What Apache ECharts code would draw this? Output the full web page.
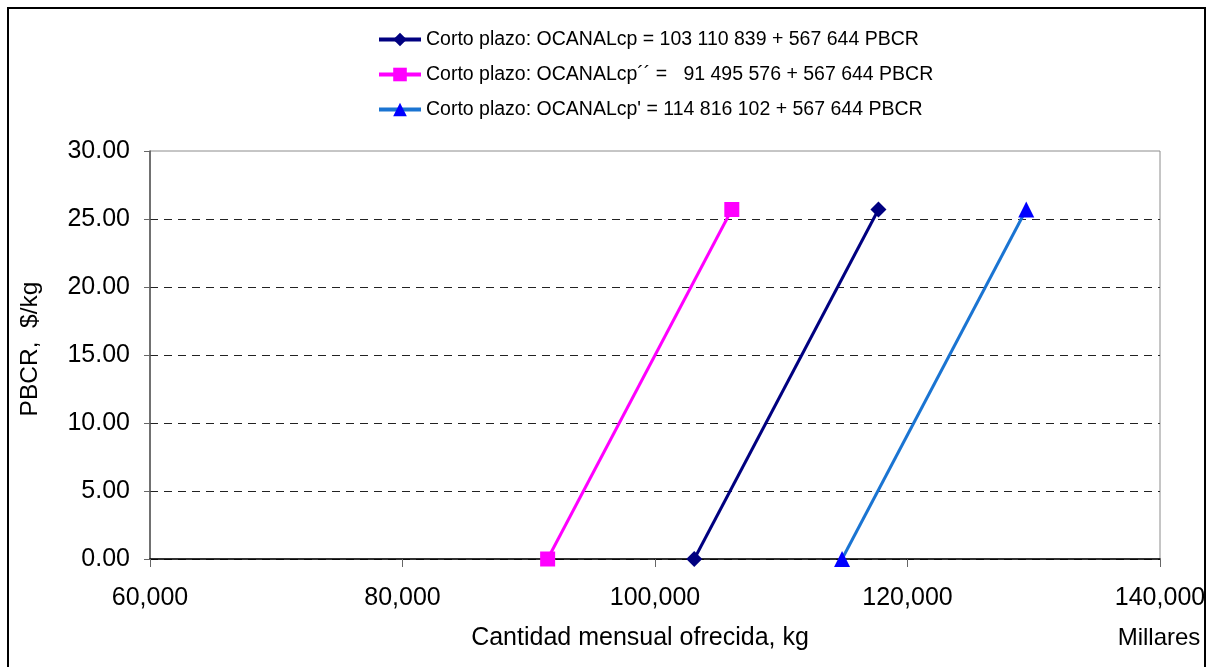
<!DOCTYPE html>
<html>
<head>
<meta charset="utf-8">
<title>Corto plazo OCANALcp</title>
<script src="https://cdn.jsdelivr.net/npm/echarts@6/dist/echarts.min.js"></script>
<style>
  html, body { margin: 0; padding: 0; background: #fff; }
  #chart { width: 1209px; height: 667px; }
</style>
</head>
<body>
<div id="chart"></div>
<script>
// series names (legend)
const seriesNames = [
  'Corto plazo: OCANALcp = 103 110 839 + 567 644 PBCR',
  'Corto plazo: OCANALcp\u00b4\u00b4 =   91 495 576 + 567 644 PBCR',
  "Corto plazo: OCANALcp' = 114 816 102 + 567 644 PBCR"
];

// PBCR values ($/kg) at both ends of each line
const pbcr = [0, 25.7];

// quantities (Millares de kg) for each series, matching pbcr
const ocanalCp = [103110.839, 117699];
const ocanalCpDD = [91495.576, 106084];
const ocanalCpP = [114816.102, 129405];

// axis ticks
const xTicks = [60000, 80000, 100000, 120000, 140000];
const yTicks = [0, 5, 10, 15, 20, 25, 30];

const FONT = '"Liberation Sans", Arial, sans-serif';

const toPairs = (xs) => xs.map((x, i) => [x, pbcr[i]]);

const chart = echarts.init(document.getElementById('chart'));

chart.setOption({
  animation: false,
  backgroundColor: '#fff',
  textStyle: { fontFamily: FONT },
  grid: {
    left: 150, right: 49, top: 151, bottom: 108,
    show: true, borderColor: '#8c8c8c', borderWidth: 1
  },
  legend: {
    orient: 'vertical',
    left: 372, top: 24.5,
    itemWidth: 42, itemHeight: 17, itemGap: 15,
    lineStyle: { width: 4 },
    textStyle: { fontFamily: FONT, fontSize: 19.5, color: '#000' },
    data: seriesNames
  },
  xAxis: {
    type: 'value',
    min: xTicks[0], max: xTicks[xTicks.length - 1], interval: 20000,
    axisLine: { onZero: false, lineStyle: { color: '#000', width: 1.5 } },
    axisTick: { show: true, length: 8, lineStyle: { color: '#666' } },
    axisLabel: {
      margin: 27, fontSize: 25, color: '#000', fontFamily: FONT,
      formatter: (v) => v.toLocaleString('en-US')
    },
    splitLine: { show: false }
  },
  yAxis: {
    type: 'value',
    min: yTicks[0], max: yTicks[yTicks.length - 1], interval: 5,
    axisLine: { lineStyle: { color: '#555', width: 1.5 } },
    axisTick: { show: true, length: 6, lineStyle: { color: '#666' } },
    axisLabel: {
      margin: 20, fontSize: 25, color: '#000', fontFamily: FONT,
      formatter: (v) => v.toFixed(2)
    },
    splitLine: {
      show: true, showMaxLine: false,
      lineStyle: { color: '#222', width: 1, type: [8, 6] }
    }
  },
  graphic: [
    {
      type: 'rect', silent: true, z: -1,
      shape: { x: 8, y: 8, width: 1197, height: 700 },
      style: { fill: 'none', stroke: '#000', lineWidth: 2 }
    },
    {
      type: 'text', x: 30, y: 349, rotation: Math.PI / 2,
      style: {
        text: 'PBCR,  $/kg', fontSize: 24.5, fill: '#000', fontFamily: FONT,
        align: 'center', verticalAlign: 'middle'
      }
    },
    {
      type: 'text', x: 640, y: 638,
      style: {
        text: 'Cantidad mensual ofrecida, kg', fontSize: 25, fill: '#000', fontFamily: FONT,
        align: 'center', verticalAlign: 'middle'
      }
    },
    {
      type: 'text', x: 1159, y: 638,
      style: {
        text: 'Millares', fontSize: 24, fill: '#000', fontFamily: FONT,
        align: 'center', verticalAlign: 'middle'
      }
    }
  ],
  series: [
    {
      name: seriesNames[0], type: 'line', data: toPairs(ocanalCp),
      symbol: 'diamond', symbolSize: 16,
      itemStyle: { color: '#000080' },
      lineStyle: { color: '#000080', width: 3 }
    },
    {
      name: seriesNames[1], type: 'line', data: toPairs(ocanalCpDD),
      symbol: 'rect', symbolSize: 15,
      itemStyle: { color: '#ff00ff' },
      lineStyle: { color: '#ff00ff', width: 3 }
    },
    {
      name: seriesNames[2], type: 'line', data: toPairs(ocanalCpP),
      symbol: 'triangle', symbolSize: 16,
      itemStyle: { color: '#0000ff' },
      lineStyle: { color: '#1a74d2', width: 3 }
    }
  ]
});
</script>
</body>
</html>
